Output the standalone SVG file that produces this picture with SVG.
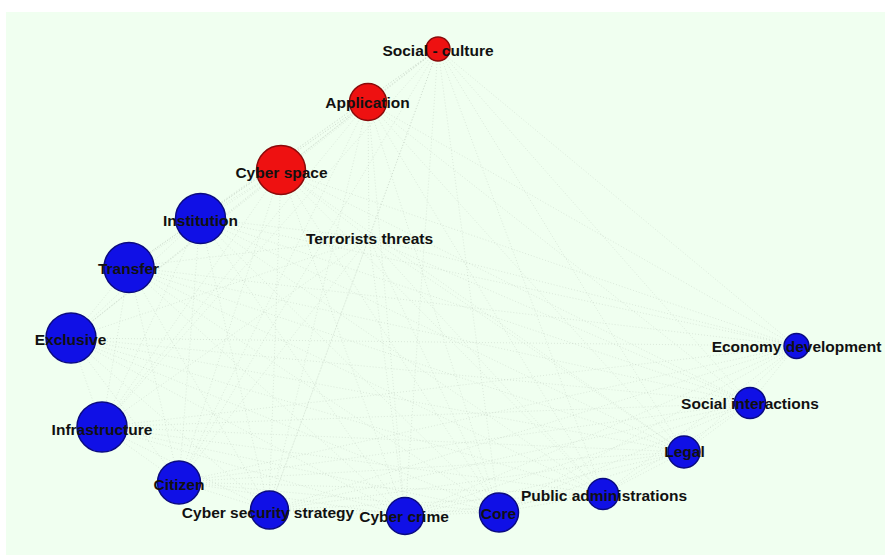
<svg xmlns="http://www.w3.org/2000/svg" width="885" height="555" viewBox="0 0 885 555">
<style>
.edge{fill:none;stroke:#a9b5a9;stroke-width:0.6;stroke-dasharray:1 2;opacity:0.5}
.blue{fill:#1010e6;stroke:#0a0a80;stroke-width:1.5}
.red{fill:#ee1111;stroke:#8a0a0a;stroke-width:1.5}
text{font-family:"Liberation Sans",Arial,sans-serif;font-weight:bold;font-size:15.5px;fill:#111;text-anchor:middle}
</style>
<rect x="0" y="0" width="885" height="555" fill="#ffffff"/>
<rect x="6" y="12" width="879" height="543" fill="#f0fff0"/>
<g id="connectors">
<path class="edge" d="M438 49L368 102M438 49L281 170M438 49L200 218M438 49L129 267M438 49L71 338M438 49L102 427M438 49L179 482M438 49L269 510M438 49L405 516M438 49L499 512M438 49L603 494M438 49L684 452M438 49L750 403M438 49L796 346M438 49L369 238
M368 102L281 170M368 102L200 218M368 102L129 267M368 102L71 338M368 102L102 427M368 102L179 482M368 102L269 510M368 102L405 516M368 102L499 512M368 102L603 494M368 102L684 452M368 102L750 403M368 102L796 346M368 102L369 238
M281 170L200 218M281 170L129 267M281 170L71 338M281 170L102 427M281 170L179 482M281 170L269 510M281 170L405 516M281 170L499 512M281 170L603 494M281 170L684 452M281 170L750 403M281 170L796 346M281 170L369 238
M200 218L129 267M200 218L71 338M200 218L102 427M200 218L179 482M200 218L269 510M200 218L405 516M200 218L499 512M200 218L603 494M200 218L684 452M200 218L750 403M200 218L796 346M200 218L369 238
M129 267L71 338M129 267L102 427M129 267L179 482M129 267L269 510M129 267L405 516M129 267L499 512M129 267L603 494M129 267L684 452M129 267L750 403M129 267L796 346M129 267L369 238
M71 338L102 427M71 338L179 482M71 338L269 510M71 338L405 516M71 338L499 512M71 338L603 494M71 338L684 452M71 338L750 403M71 338L796 346M71 338L369 238
M102 427L179 482M102 427L269 510M102 427L405 516M102 427L499 512M102 427L603 494M102 427L684 452M102 427L750 403M102 427L796 346M102 427L369 238
M179 482L269 510M179 482L405 516M179 482L499 512M179 482L603 494M179 482L684 452M179 482L750 403M179 482L796 346M179 482L369 238
M269 510L405 516M269 510L499 512M269 510L603 494M269 510L684 452M269 510L750 403M269 510L796 346M269 510L369 238
M405 516L499 512M405 516L603 494M405 516L684 452M405 516L750 403M405 516L796 346M405 516L369 238
M499 512L603 494M499 512L684 452M499 512L750 403M499 512L796 346M499 512L369 238
M603 494L684 452M603 494L750 403M603 494L796 346M603 494L369 238
M684 452L750 403M684 452L796 346M684 452L369 238
M750 403L796 346M750 403L369 238
M796 346L369 238"/>
</g>
<g id="social-culture"><circle class="red" cx="438" cy="49" r="12"/><text x="438" y="56">Social - culture</text></g>
<g id="application"><circle class="red" cx="368" cy="102" r="18.5"/><text x="367.5" y="108">Application</text></g>
<g id="cyber-space"><circle class="red" cx="281" cy="170" r="24.5"/><text x="281.5" y="178">Cyber space</text></g>
<g id="institution"><circle class="blue" cx="200.5" cy="218.5" r="25"/><text x="200.5" y="226">Institution</text></g>
<g id="transfer"><circle class="blue" cx="129" cy="267.5" r="25"/><text x="128.5" y="274">Transfer</text></g>
<g id="exclusive"><circle class="blue" cx="71" cy="338" r="25"/><text x="70.5" y="345">Exclusive</text></g>
<g id="infrastructure"><circle class="blue" cx="102" cy="427" r="25"/><text x="102" y="435">Infrastructure</text></g>
<g id="citizen"><circle class="blue" cx="179" cy="482.5" r="21.5"/><text x="179" y="490">Citizen</text></g>
<g id="cyber-security-strategy"><circle class="blue" cx="269.5" cy="510" r="19"/><text x="268" y="518">Cyber security strategy</text></g>
<g id="cyber-crime"><circle class="blue" cx="405" cy="516" r="18.5"/><text x="404" y="522">Cyber crime</text></g>
<g id="core"><circle class="blue" cx="499" cy="512.5" r="19.5"/><text x="498.5" y="519">Core</text></g>
<g id="public-administrations"><circle class="blue" cx="603" cy="494" r="15.5"/><text x="604" y="501">Public administrations</text></g>
<g id="legal"><circle class="blue" cx="684" cy="452" r="16"/><text x="684.5" y="457">Legal</text></g>
<g id="social-interactions"><circle class="blue" cx="750" cy="403" r="15.5"/><text x="750" y="409">Social interactions</text></g>
<g id="economy-development"><circle class="blue" cx="796.5" cy="346" r="12.5"/><text x="796.5" y="352">Economy development</text></g>
<g id="terrorists-threats"><text x="369.5" y="244">Terrorists threats</text></g>
</svg>
